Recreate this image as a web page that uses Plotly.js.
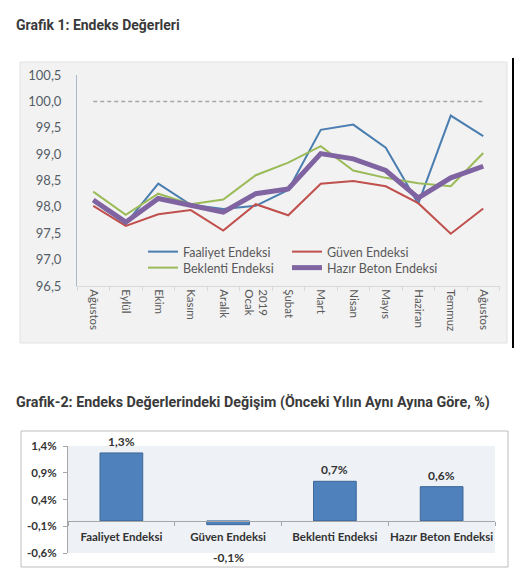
<!DOCTYPE html>
<html>
<head>
<meta charset="utf-8">
<script src="https://cdn.plot.ly/plotly-3.0.1.min.js"></script>
<style>html,body{margin:0;padding:0;background:#fff;}#chart{width:524px;height:580px;}</style>
</head>
<body>
<div id="chart"></div>
<script>
// ---- Chart 1 data ----
const months = ['2018-08','2018-09','2018-10','2018-11','2018-12','2019-01','2019-02','2019-03','2019-04','2019-05','2019-06','2019-07','2019-08'];
const monthLabels = ['Ağustos','Eylül','Ekim','Kasım','Aralık','2019<br>Ocak','Şubat','Mart','Nisan','Mayıs','Haziran','Temmuz','Ağustos'];
const faaliyet = [98.10, 97.68, 98.44, 98.04, 97.96, 98.02, 98.32, 99.46, 99.56, 99.12, 98.06, 99.73, 99.34];
const guven    = [98.02, 97.64, 97.86, 97.94, 97.55, 98.05, 97.84, 98.44, 98.49, 98.39, 98.07, 97.49, 97.97];
const beklenti = [98.29, 97.85, 98.25, 98.05, 98.14, 98.60, 98.84, 99.15, 98.69, 98.55, 98.45, 98.39, 99.02];
const hazir    = [98.13, 97.71, 98.16, 98.02, 97.90, 98.25, 98.34, 99.01, 98.91, 98.69, 98.17, 98.55, 98.77];
const refLine  = [100, 100, 100, 100, 100, 100, 100, 100, 100, 100, 100, 100, 100];
const seriesNames = ['Faaliyet Endeksi','Güven Endeksi','Beklenti Endeksi','Hazır Beton Endeksi'];

// ---- Chart 2 data ----
const indices = ['Faaliyet Endeksi','Güven Endeksi','Beklenti Endeksi','Hazır Beton Endeksi'];
const changes = [1.27, -0.07, 0.74, 0.64];
const changeLabels = ['1,3%','-0,1%','0,7%','0,6%'];
const yTickVals2 = [-0.6, -0.1, 0.4, 0.9, 1.4];
const yTickText2 = ['-0,6%','-0,1%','0,4%','0,9%','1,4%'];

const W = 524, H = 580;
const px = v => v / W;
const py = v => 1 - v / H;

const lineFont = 'Lato, "Open Sans", sans-serif';

function lineTrace(y, name, color, width, legend) {
  return {
    type: 'scatter', mode: 'lines', x: months, y: y, name: name,
    line: {color: color, width: width},
    xaxis: 'x', yaxis: 'y', legend: legend, legendwidth: 130
  };
}

const traces = [
  {type: 'scatter', mode: 'lines', x: months, y: refLine, showlegend: false,
   line: {color: '#a6a6a6', width: 1.5, dash: '4px,3px'}, xaxis: 'x', yaxis: 'y'},
  lineTrace(faaliyet, seriesNames[0], '#4A7EB0', 2, 'legend'),
  lineTrace(guven, seriesNames[1], '#C0504D', 2, 'legend'),
  lineTrace(beklenti, seriesNames[2], '#9BBB59', 2, 'legend2'),
  lineTrace(hazir, seriesNames[3], '#8064A2', 5, 'legend2'),
  {type: 'bar', x: indices, y: changes, xaxis: 'x2', yaxis: 'y2', showlegend: false,
   width: 0.4, marker: {color: '#4F81BD', line: {color: '#3B6796', width: 1}}}
];
// first column entries get a fixed width so the second column lines up
traces[1].legendwidth = 99;
traces[3].legendwidth = 99;

const y2dom = [py(553), py(446)];
const y2range = [-0.6, 1.4];
const zeroPos = y2dom[0] + (0 - y2range[0]) / (y2range[1] - y2range[0]) * (y2dom[1] - y2dom[0]);

const annotations = [
  {xref: 'paper', yref: 'paper', x: px(14), y: py(25), xanchor: 'left', yanchor: 'middle', showarrow: false,
   text: '<b>Grafik 1: Endeks Değerleri</b>', font: {family: 'Roboto, sans-serif', size: 14, color: '#3a3a3a'}},
  {xref: 'paper', yref: 'paper', x: px(14), y: py(402), xanchor: 'left', yanchor: 'middle', showarrow: false,
   text: '<b>Grafik-2: Endeks Değerlerindeki Değişim (Önceki Yılın Aynı Ayına Göre, %)</b>', font: {family: 'Roboto, sans-serif', size: 14.3, color: '#3a3a3a'}}
];
indices.forEach((c, i) => {
  const v = changes[i];
  annotations.push({xref: 'x2', yref: 'y2', x: c, y: v, showarrow: false,
    text: '<b>' + changeLabels[i] + '</b>', yanchor: v >= 0 ? 'bottom' : 'top', yshift: v >= 0 ? 2 : -23,
    font: {family: lineFont, size: 12, color: '#333333'}});
});

const layout = {
  width: W, height: H,
  margin: {l: 0, r: 0, t: 0, b: 0},
  paper_bgcolor: '#ffffff', plot_bgcolor: 'rgba(0,0,0,0)',
  separators: ',.',
  showlegend: true,
  hovermode: false,
  xaxis: {
    domain: [px(77), px(499.5)], anchor: 'y', type: 'category', categoryorder: 'array', categoryarray: months,
    tickvals: months, ticktext: monthLabels, tickangle: 90, range: [-0.5, 12.5],
    showline: true, linecolor: '#d9d9d9', linewidth: 1, ticks: 'outside', tickson: 'boundaries', ticklen: 4, tickcolor: '#d9d9d9',
    showgrid: false, zeroline: false, tickfont: {family: lineFont, size: 11.5, color: '#595959'}
  },
  yaxis: {
    domain: [py(286), py(75)], anchor: 'x', range: [96.5, 100.5], tick0: 96.5, dtick: 0.5, tickformat: '.1f',
    showline: true, linecolor: '#a9b7c8', linewidth: 1, ticks: '', showgrid: false, zeroline: false,
    ticklabelstandoff: 12, tickfont: {family: lineFont, size: 13, color: '#555d66'}
  },
  xaxis2: {
    domain: [px(68), px(495)], anchor: 'free', position: zeroPos, type: 'category', categoryorder: 'array', categoryarray: indices,
    tickangle: 0, ticklabelstandoff: 5,
    showline: true, linecolor: '#a6a6a6', linewidth: 1, ticks: 'outside', tickson: 'boundaries', ticklen: 4, tickcolor: '#a6a6a6',
    showgrid: false, zeroline: false, tickfont: {family: lineFont, size: 11.5, color: '#333333', weight: 'bold'}
  },
  yaxis2: {
    domain: y2dom, anchor: 'x2', range: y2range, tickvals: yTickVals2, ticktext: yTickText2,
    showline: true, linecolor: '#a6a6a6', linewidth: 1, ticks: 'outside', ticklen: 4, tickcolor: '#a6a6a6',
    showgrid: false, zeroline: false, ticklabelstandoff: 4,
    tickfont: {family: lineFont, size: 11.5, color: '#333333', weight: 'bold'}
  },
  legend: {
    orientation: 'h', x: px(143), xanchor: 'left', y: py(252), yanchor: 'middle',
    bgcolor: 'rgba(0,0,0,0)', font: {family: lineFont, size: 12.5, color: '#595959'}, traceorder: 'normal'
  },
  legend2: {
    orientation: 'h', x: px(143), xanchor: 'left', y: py(268), yanchor: 'middle',
    bgcolor: 'rgba(0,0,0,0)', font: {family: lineFont, size: 12.5, color: '#595959'}, traceorder: 'normal'
  },
  shapes: [
    {type: 'rect', xref: 'paper', yref: 'paper', x0: px(20), x1: px(507), y0: py(343), y1: py(62),
     fillcolor: '#f2f2f2', line: {color: '#e2e2e2', width: 1}, layer: 'below'},
    {type: 'line', xref: 'paper', yref: 'paper', x0: px(513), x1: px(513), y0: py(58), y1: py(348),
     line: {color: '#000000', width: 2}},
    {type: 'rect', xref: 'paper', yref: 'paper', x0: px(21), x1: px(508), y0: py(567), y1: py(431),
     fillcolor: '#ffffff', line: {color: '#bdbdbd', width: 1}, layer: 'below'},
    {type: 'rect', xref: 'x2 domain', yref: 'y2 domain', x0: 0, x1: 1, y0: 0, y1: 1,
     fillcolor: '#eef1f6', line: {width: 0}, layer: 'below'}
  ],
  annotations: annotations
};

Plotly.newPlot('chart', traces, layout, {displayModeBar: false, staticPlot: true});
</script>
</body>
</html>
